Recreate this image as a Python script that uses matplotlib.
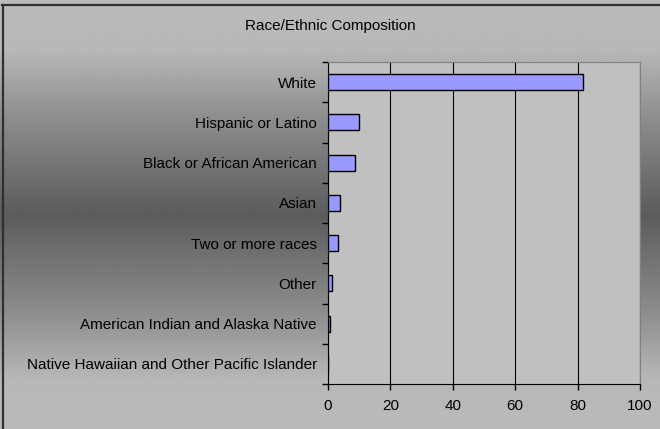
import matplotlib.pyplot as plt
import numpy as np
from matplotlib.lines import Line2D

categories = [
    "White",
    "Hispanic or Latino",
    "Black or African American",
    "Asian",
    "Two or more races",
    "Other",
    "American Indian and Alaska Native",
    "Native Hawaiian and Other Pacific Islander",
]
values = [81.8, 9.8, 8.6, 3.9, 3.3, 1.3, 0.8, 0.1]
x_ticks = [0, 20, 40, 60, 80, 100]

plt.rcParams["font.family"] = ["Liberation Sans", "DejaVu Sans"]

W, H = 660, 429
fig = plt.figure(figsize=(W / 100, H / 100), dpi=100)

# gradient background (light at top/bottom, dark in the middle)
bg = fig.add_axes([0, 0, 1, 1], zorder=-10)
stops_y = [0, 50, 120, 215, 310, 380, 429]
stops_v = [0.73, 0.72, 0.55, 0.36, 0.55, 0.72, 0.73]
grad = np.interp(np.arange(H), stops_y, stops_v)
img = np.repeat(grad[:, None], 2, axis=1)
bg.imshow(img, cmap="gray", vmin=0, vmax=1, aspect="auto",
          extent=[0, W, H, 0], interpolation="bilinear")
bg.set_xlim(0, W)
bg.set_ylim(H, 0)
bg.axis("off")

# outer frame: only the left and top edges are visible
bg.add_line(Line2D([3, 3], [H, 4.5], color="#303030", linewidth=1.6))
bg.add_line(Line2D([2.2, W], [4.5, 4.5], color="#303030", linewidth=1.6))

# plot area
left, right, top, bottom = 328, 640, 62, 384
ax = fig.add_axes([left / W, 1 - bottom / H, (right - left) / W, (bottom - top) / H])
ax.set_facecolor("#c0c0c0")

y = np.arange(len(categories))
ax.barh(y, values, height=0.4, color="#9999ff", edgecolor="black",
        linewidth=1, zorder=3)

ax.set_xlim(0, 100)
ax.set_ylim(len(categories) - 0.5, -0.5)

ax.set_xticks(x_ticks)
ax.set_xticklabels([str(t) for t in x_ticks], fontsize=11)
ax.xaxis.grid(True, color="black", linewidth=0.8, zorder=1)

# ticks between categories, labels centred on the bars
ax.set_yticks(np.arange(len(categories) + 1) - 0.5)
ax.set_yticklabels([])
ax.set_yticks(y, minor=True)
ax.set_yticklabels(categories, minor=True, fontsize=11)
ax.tick_params(axis="y", which="minor", length=0, pad=8)
ax.tick_params(axis="y", which="major", length=4, width=1, direction="out")
ax.tick_params(axis="x", length=4, width=1, direction="out", pad=7)

for side in ["top", "right"]:
    ax.spines[side].set_color("#808080")
for side in ["left", "bottom"]:
    ax.spines[side].set_color("black")

fig.text(0.5, 1 - 26 / H, "Race/Ethnic Composition", ha="center", va="center",
         fontsize=11)

fig.savefig("out.png", dpi=100)
